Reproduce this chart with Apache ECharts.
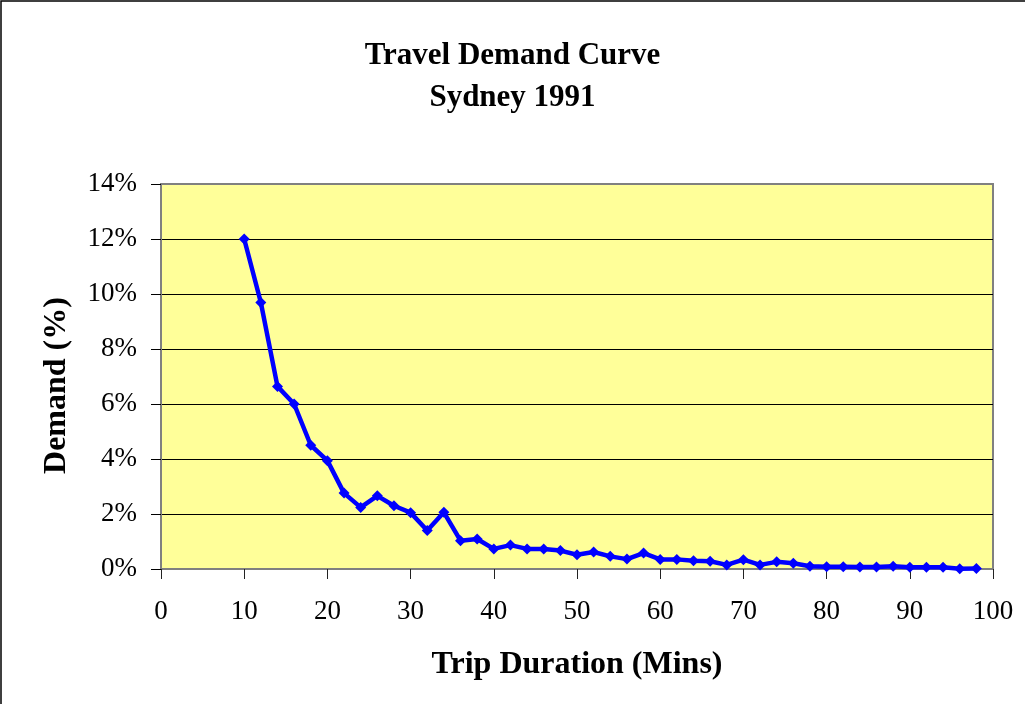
<!DOCTYPE html>
<html>
<head>
<meta charset="utf-8">
<script src="https://cdn.jsdelivr.net/npm/echarts@6/dist/echarts.min.js"></script>
<style>
  html, body { margin: 0; padding: 0; background: #fff; }
  #container { width: 1025px; height: 704px; }
</style>
</head>
<body>
<div id="container"></div>
<script>
var dom = document.getElementById("container");
var myChart = echarts.init(dom);

// trip duration (mins)
var durations = [10, 12, 14, 16, 18, 20, 22, 24, 26, 28, 30, 32, 34, 36, 38, 40, 42, 44, 46, 48,
    50, 52, 54, 56, 58, 60, 62, 64, 66, 68, 70, 72, 74, 76, 78, 80, 82, 84, 86, 88, 90, 92, 94, 96, 98];
// demand (%)
var demand = [12.0, 9.69, 6.64, 6.0, 4.5, 3.94, 2.76, 2.24, 2.66, 2.3, 2.05, 1.4, 2.06, 1.03, 1.09, 0.73, 0.87, 0.73, 0.73, 0.67,
    0.52, 0.62, 0.46, 0.36, 0.58, 0.35, 0.35, 0.3, 0.28, 0.15, 0.34, 0.15, 0.26, 0.21, 0.1, 0.08, 0.08, 0.07, 0.07, 0.1,
    0.06, 0.06, 0.06, 0.01, 0.02];

var points = [];
durations.forEach(function (d, i) {
    points.push([d, demand[i]]);
});

var serif = '"Liberation Serif", "Times New Roman", serif';

option = {
    backgroundColor: '#fff',
    animation: false,
    graphic: [
        {
            // outer chart border (right/bottom run off the picture)
            type: 'rect',
            shape: { x: 1, y: 1, width: 1040, height: 720 },
            style: { fill: 'none', stroke: '#000', lineWidth: 1.5 }
        }
    ],
    title: {
        text: 'Travel Demand Curve\nSydney 1991',
        left: 'center',
        top: 30,
        textStyle: {
            fontFamily: serif,
            fontWeight: 'bold',
            fontSize: 31,
            lineHeight: 42,
            color: '#000'
        }
    },
    grid: {
        left: 161,
        right: 32,
        top: 184,
        bottom: 135,
        show: true,
        backgroundColor: '#FFFF99',
        borderColor: '#808080',
        borderWidth: 2
    },
    xAxis: {
        type: 'value',
        min: 0,
        max: 100,
        interval: 10,
        name: 'Trip Duration (Mins)',
        nameLocation: 'middle',
        nameGap: 80,
        nameTextStyle: { fontFamily: serif, fontWeight: 'bold', fontSize: 32, color: '#000' },
        axisLine: { lineStyle: { color: '#808080', width: 2 } },
        axisTick: { show: true, length: 10, lineStyle: { color: '#222' } },
        axisLabel: { fontFamily: serif, fontSize: 27, color: '#000', margin: 29 },
        splitLine: { show: false }
    },
    yAxis: {
        type: 'value',
        min: 0,
        max: 14,
        interval: 2,
        name: 'Demand (%)',
        nameLocation: 'middle',
        nameGap: 88,
        nameTextStyle: { fontFamily: serif, fontWeight: 'bold', fontSize: 32, color: '#000', padding: [0, 18, 0, 0] },
        axisLine: { show: true, lineStyle: { color: '#808080', width: 2 } },
        axisTick: { show: true, length: 10, lineStyle: { color: '#000' } },
        axisLabel: { fontFamily: serif, fontSize: 27, color: '#000', margin: 24, formatter: '{value}%' },
        splitLine: { show: true, showMaxLine: false, showMinLine: false, lineStyle: { color: '#000', width: 1 } }
    },
    series: [
        {
            name: 'Demand',
            type: 'line',
            data: points,
            symbol: 'diamond',
            symbolSize: 11,
            lineStyle: { color: '#0000FF', width: 4.5 },
            itemStyle: { color: '#0000FF' }
        }
    ]
};
myChart.setOption(option, true);
</script>
</body>
</html>
